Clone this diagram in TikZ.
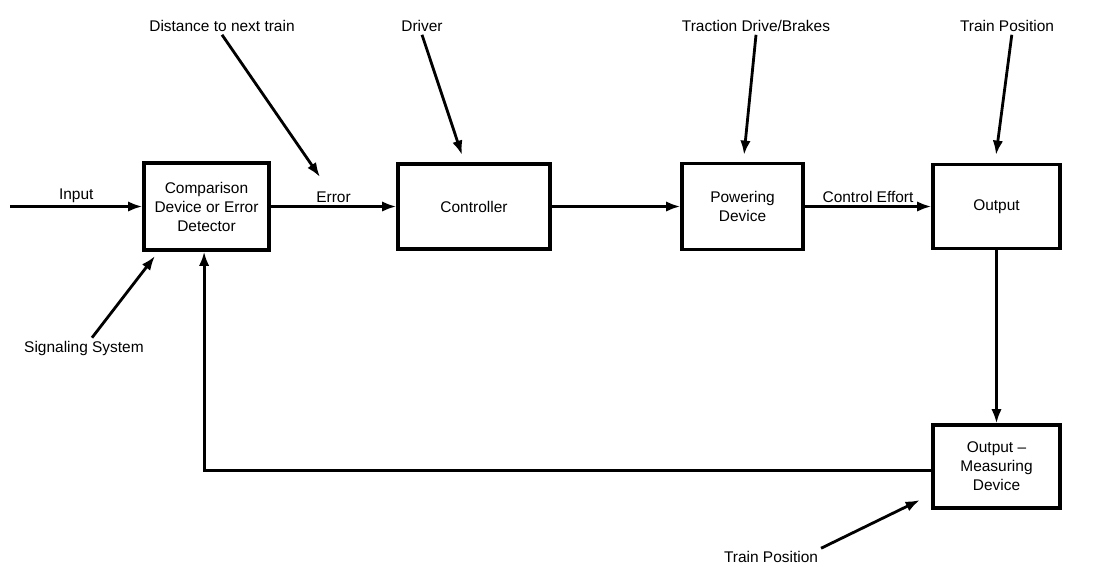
\documentclass[tikz,border=0pt]{standalone}
\usepackage{fontspec}
\setmainfont{Liberation Sans}
\usetikzlibrary{arrows.meta, positioning}

\begin{document}
\begin{tikzpicture}[
    x=0.025cm, y=-0.025cm,
    >={Latex[length=3.6mm, width=2.6mm]},
    block/.style={draw, line width=2.2pt, align=center, font=\fontsize{11}{13.5}\selectfont, inner sep=2pt},
    arrow/.style={->, line width=2pt},
    lbl/.style={font=\fontsize{11}{13.5}\selectfont, inner sep=2pt},
]
\useasboundingbox (0,0) rectangle (1096,568);

% Blocks of the loop
\node[block, minimum width=3.125cm, minimum height=2.175cm] (comp) at (206.5,206.5) {Comparison\\Device or Error\\Detector};
\node[block, minimum width=3.8cm, minimum height=2.125cm] (ctrl) at (474,206.5) {Controller};
\node[block, minimum width=3.025cm, minimum height=2.15cm] (power) at (742.5,206.5) {Powering\\Device};
\node[block, minimum width=3.175cm, minimum height=2.1cm] (out) at (996.5,206.5) {Output};
\node[block, minimum width=3.175cm, minimum height=2.075cm] (meas) at (996.5,466.5) {Output --\\Measuring\\Device};

% Forward path
\coordinate (in) at (10,206.5);
\draw[arrow] (in) -- (comp.west) node[midway, above, lbl] {Input};
\draw[arrow] (comp) -- (ctrl) node[midway, above, lbl] {Error};
\draw[arrow] (ctrl) -- (power);
\draw[arrow] (power) -- (out) node[midway, above, lbl] {Control Effort};
\draw[arrow] (out) -- (meas);

% Feedback path
\draw[arrow] ([yshift=-0.1cm]meas.west) -| ([xshift=-0.06cm]comp.south);

% External inputs
\node[lbl] (dist) at (222,26) {Distance to next train};
\coordinate (distend) at (320,177);
\draw[arrow] (dist.south) -- (distend);

\node[lbl] (drv) at (422,26) {Driver};
\coordinate (drvend) at (462,155);
\draw[arrow] (drv.south) -- (drvend);

\node[lbl] (trac) at (756,26) {Traction Drive/Brakes};
\coordinate (tracend) at (744,155);
\draw[arrow] (trac.south) -- (tracend);

\node[lbl] (tpos) at (1007,26) {Train Position};
\coordinate (tposend) at (996,155);
\draw[arrow] ([xshift=0.12cm]tpos.south) -- (tposend);

\node[lbl] (sig) at (84,348) {Signaling System};
\coordinate (sigend) at (155,256);
\draw[arrow] ([xshift=0.2cm]sig.north) -- (sigend);

\node[lbl] (tposb) at (771,557) {Train Position};
\coordinate (tposbend) at (920,500);
\draw[arrow] (tposb.north east) -- (tposbend);

\end{tikzpicture}
\end{document}
